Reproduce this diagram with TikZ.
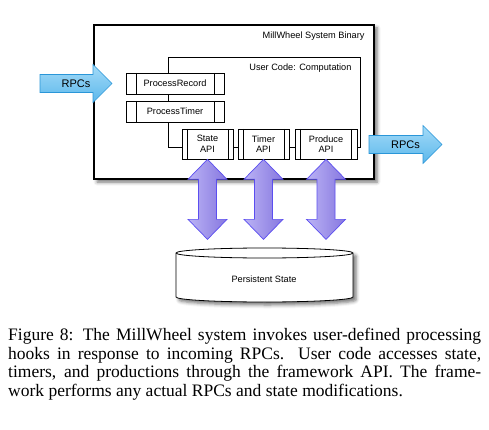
\documentclass[tikz,border=0pt]{standalone}
\usepackage{fontspec}
\setmainfont{Liberation Serif}
\setsansfont{Liberation Sans}
\usetikzlibrary{shadows.blur}

\definecolor{rpcline}{HTML}{2A96D8}
\definecolor{rpctop}{HTML}{A4DBF8}
\definecolor{rpcbottom}{HTML}{5BB7EB}
\definecolor{apiline}{HTML}{5B4EF0}
\definecolor{apileft}{HTML}{BBB3F5}
\definecolor{apiright}{HTML}{8677DF}

\newcommand{\labelfont}{\sffamily\fontsize{9.2}{10.5}\selectfont}
\newcommand{\rpcfont}{\sffamily\fontsize{11}{13}\selectfont}
\newcommand{\captionfont}{\rmfamily\fontsize{17.5}{18.7}\selectfont}

\tikzset{
  procbox/.style={draw, fill=white, line width=0.7pt, inner sep=0pt, font=\labelfont, align=center,
    path picture={
      \draw[line width=0.7pt] ([xshift=#1]path picture bounding box.north west) -- ([xshift=#1]path picture bounding box.south west);
      \draw[line width=0.7pt] ([xshift=-#1]path picture bounding box.north east) -- ([xshift=-#1]path picture bounding box.south east);
    }},
  rpcarrow/.style={draw=rpcline, line width=0.6pt, top color=rpctop, bottom color=rpcbottom},
  apiarrow/.style={draw=apiline, line width=0.7pt, left color=apileft, right color=apiright},
  softshadow/.style={blur shadow={shadow xshift=3pt, shadow yshift=-3pt, shadow blur radius=3.5pt, shadow opacity=55}},
}

\begin{document}
\begin{tikzpicture}[x=1pt,y=-1pt]
\useasboundingbox (0,0) rectangle (489,430);

% system binary
\path[draw,line width=1.1pt,fill=white,softshadow] (94,25) rectangle (374,179);
\node[anchor=east,font=\labelfont] (binary) at (368,36) {MillWheel System Binary};

% user code
\path[draw,line width=0.7pt] (168,57) rectangle (360,147);
\node[anchor=east,font=\labelfont] (usercode) at (355,68) {User Code: Computation};

\node[procbox=10pt,minimum width=98pt,minimum height=21pt] (record) at (175,83.5) {ProcessRecord};
\node[procbox=10pt,minimum width=98pt,minimum height=21pt] (timer) at (175,111.5) {ProcessTimer};
\node[procbox=5pt,minimum width=51pt,minimum height=30pt] (stateapi) at (207.5,144) {State\\API};
\node[procbox=5pt,minimum width=51pt,minimum height=30pt] (timerapi) at (263.5,144) {Timer\\API};
\node[procbox=5.5pt,minimum width=62pt,minimum height=30pt] (produceapi) at (326,144) {Produce\\API};

% rpcs in and out
\path[rpcarrow] (40,74.5) -- (93,74.5) -- (93,64.5) -- (112,83.5) -- (93,102.5) -- (93,92.5) -- (40,92.5) -- cycle;
\node[font=\rpcfont] (rpcin) at (76,83.5) {RPCs};
\path[rpcarrow] (369,135.5) -- (423,135.5) -- (423,125.5) -- (442,144.5) -- (423,163.5) -- (423,153.5) -- (369,153.5) -- cycle;
\node[font=\rpcfont] (rpcout) at (405.5,144.5) {RPCs};

% persistent state
\path[draw,line width=0.8pt,fill=white,softshadow] (176,253) -- (176,297)
  arc[start angle=180,end angle=360,x radius=88.5pt,y radius=5pt] -- (353,253)
  arc[start angle=0,end angle=180,x radius=88.5pt,y radius=5pt] -- cycle;
\draw[line width=0.8pt] (176,253) arc[start angle=180,end angle=360,x radius=88.5pt,y radius=5pt];
\node[font=\labelfont] (store) at (264,279) {Persistent State};

\foreach \api in {stateapi,timerapi,produceapi}
  \path[apiarrow] (\api.south) -- ++(19.5,20) -- ++(-10.5,0) -- ++(0,40) -- ++(10.5,0) -- ++(-19.5,20)
    -- ++(-19.5,-20) -- ++(10.5,0) -- ++(0,-40) -- ++(-10.5,0) -- cycle;

\node[anchor=north west,text width=473pt,align=justify,inner sep=0pt,font=\captionfont] (caption) at (8,328)
  {Figure 8: The MillWheel system invokes user-defined processing\linebreak
  hooks in response to incoming RPCs. User code accesses state,\linebreak
  timers, and productions through the framework API. The frame-\linebreak
  work performs any actual RPCs and state modifications.};

\end{tikzpicture}
\end{document}
